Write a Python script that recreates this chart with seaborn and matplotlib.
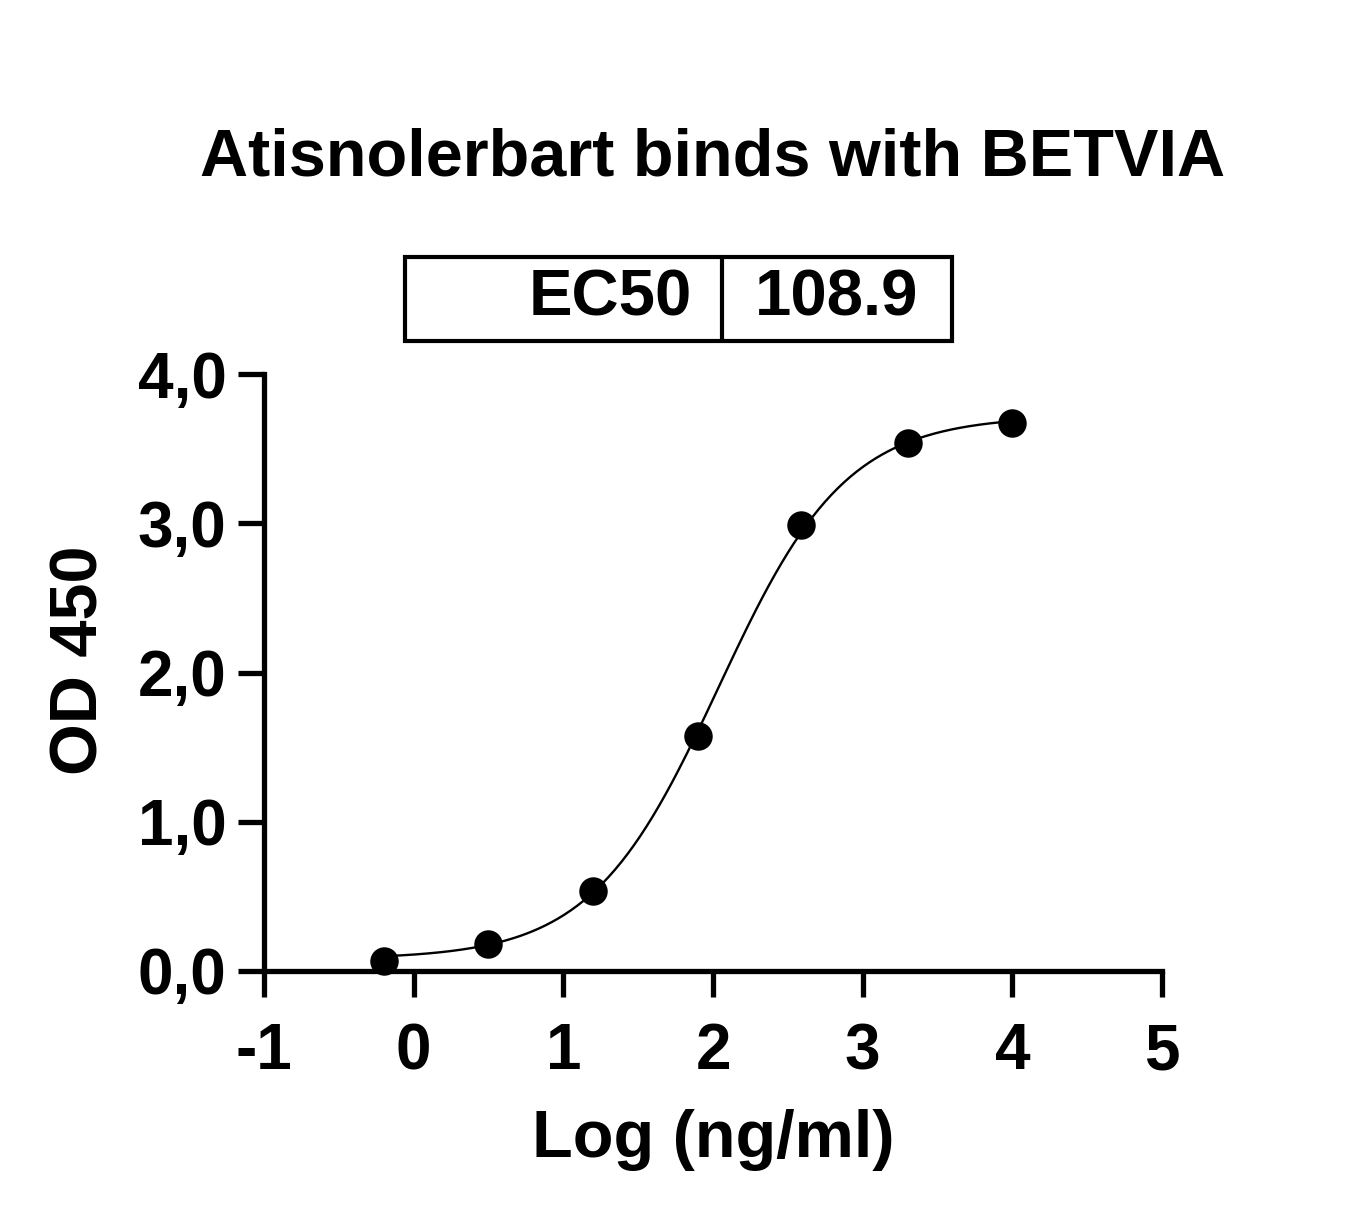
import numpy as np
import pandas as pd
import matplotlib
matplotlib.use("Agg")
import matplotlib.pyplot as plt
from matplotlib.patches import Rectangle
import seaborn as sns

# measured points (log concentration, OD450)
log_conc = [-0.2, 0.5, 1.2, 1.9, 2.59, 3.3, 4.0]
od450 = [0.067, 0.18, 0.536, 1.575, 2.99, 3.54, 3.67]

# 4PL fit parameters
ec50 = 108.9
bottom = 0.08
top = 3.72
hill = 1.02

x_ticks = [-1, 0, 1, 2, 3, 4, 5]
y_ticks = [0.0, 1.0, 2.0, 3.0, 4.0]
y_tick_labels = ["0,0", "1,0", "2,0", "3,0", "4,0"]

sns.set_style("ticks")
plt.rcParams["font.family"] = ["Liberation Sans", "DejaVu Sans"]
plt.rcParams["font.weight"] = "bold"
plt.rcParams["text.color"] = "black"
plt.rcParams["axes.labelcolor"] = "black"
plt.rcParams["xtick.color"] = "black"
plt.rcParams["ytick.color"] = "black"

W, H = 1362, 1219
fig = plt.figure(figsize=(W / 100, H / 100), dpi=100)
ax = fig.add_axes([264 / W, 1 - 971 / H, (1162 - 264) / W, (971 - 374) / H])

# fitted curve
xs = np.linspace(min(log_conc), max(log_conc), 300)
fit = bottom + (top - bottom) / (1 + 10 ** ((np.log10(ec50) - xs) * hill))
curve = pd.DataFrame({"x": xs, "y": fit})
sns.lineplot(data=curve, x="x", y="y", color="black", linewidth=1.7, ax=ax)

pts = pd.DataFrame({"x": log_conc, "y": od450})
sns.scatterplot(data=pts, x="x", y="y", color="black", s=420, edgecolor="black",
                linewidth=0, zorder=5, clip_on=False, ax=ax)

ax.set_xlim(-1, 5)
ax.set_ylim(0, 4)
ax.set_xticks(x_ticks)
ax.set_xticklabels([str(t) for t in x_ticks])
ax.set_yticks(y_ticks)
ax.set_yticklabels(y_tick_labels)
ax.tick_params(axis="both", direction="out", length=19, width=3.8, color="black",
               labelsize=46)
ax.tick_params(axis="x", pad=18)
ax.tick_params(axis="y", pad=8)
for lab in ax.get_xticklabels() + ax.get_yticklabels():
    lab.set_fontweight("bold")
for side in ["top", "right"]:
    ax.spines[side].set_visible(False)
for side in ["left", "bottom"]:
    ax.spines[side].set_linewidth(3.8)
    ax.spines[side].set_color("black")

ax.set_xlabel("Log (ng/ml)", fontsize=48, fontweight="bold")
ax.set_ylabel("OD 450", fontsize=48, fontweight="bold")
ax.xaxis.set_label_coords(0.5, -(1140 - 971) / (971 - 374), transform=ax.transAxes)
ax.xaxis.label.set_va("center")
ax.yaxis.set_label_coords(-(264 - 80) / (1162 - 264), (971 - 660) / (971 - 374))
ax.yaxis.label.set_va("center")

fig.text(713 / W, 1 - 158 / H, "Atisnolerbart binds with BETVIA",
         fontsize=48, fontweight="bold", ha="center", va="center")

# EC50 box
bx0, bx1, bdiv = 405, 952, 722
by0, by1 = 257, 341
box = Rectangle((bx0 / W, 1 - by1 / H), (bx1 - bx0) / W, (by1 - by0) / H,
                transform=fig.transFigure, fill=False, edgecolor="black", linewidth=3)
fig.add_artist(box)
fig.add_artist(plt.Line2D([bdiv / W, bdiv / W], [1 - by1 / H, 1 - by0 / H],
                          transform=fig.transFigure, color="black", linewidth=3))
fig.text(692 / W, 1 - 298 / H, "EC50", fontsize=47, fontweight="bold",
         ha="right", va="center")
fig.text(837 / W, 1 - 298 / H, f"{ec50}", fontsize=47, fontweight="bold",
         ha="center", va="center")

fig.savefig("out.png", dpi=100, facecolor="white")
